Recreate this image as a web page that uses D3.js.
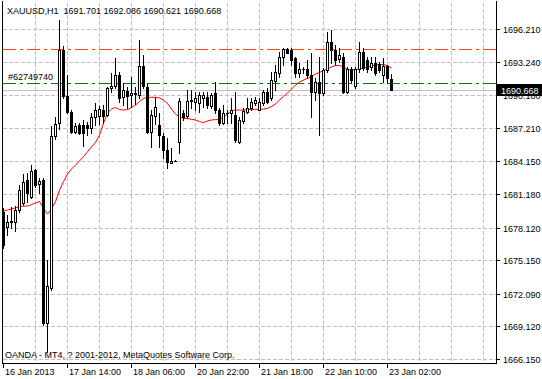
<!DOCTYPE html>
<html><head><meta charset="utf-8">
<script src="https://cdn.jsdelivr.net/npm/d3@7/dist/d3.min.js"></script>
<style>
html,body{margin:0;padding:0;background:#fff;}
svg{display:block;}
text{font-family:"Liberation Sans",Arial,sans-serif;font-size:9px;fill:#000;}
</style></head><body>
<svg id="c" width="542" height="379"></svg>
<script>
const symbolTitle = "XAUUSD,H1";
const lastOHLC = ["1691.701", "1692.086", "1690.621", "1690.668"];

const opens = [1679.54,1678.20,1678.60,1678.65,1679.72,1680.38,1682.45,1680.93,1683.36,1682.09,
1682.45,1669.40,1672.61,1686.46,1687.62,1694.29,1690.10,1688.67,1686.85,1687.46,
1687.46,1687.46,1687.16,1688.22,1688.30,1688.83,1688.37,1690.81,1691.02,1692.02,
1690.04,1690.59,1690.20,1690.38,1690.20,1692.84,1690.95,1686.85,1688.28,1687.46,
1686.46,1685.18,1684.03,1684.21,1685.94,1688.53,1688.28,1689.65,1689.59,1689.49,
1689.89,1690.04,1689.19,1690.35,1688.83,1687.62,1688.53,1688.58,1688.37,1685.94,
1687.83,1688.67,1688.98,1689.47,1688.83,1689.44,1690.50,1689.89,1691.50,1692.17,
1693.68,1694.36,1694.29,1693.54,1692.17,1692.54,1692.54,1692.02,1690.47,1691.41,
1690.41,1692.47,1695.05,1694.29,1693.45,1693.66,1690.50,1692.54,1691.02,1692.54,
1694.14,1693.38,1692.77,1693.08,1693.02,1692.02,1692.84,1691.701];
const highs = [1679.90,1679.26,1680.02,1680.08,1682.00,1683.00,1683.06,1683.82,1683.43,1682.61,
1682.63,1675.16,1687.37,1688.22,1697.03,1694.66,1692.02,1688.83,1687.64,1687.64,
1687.92,1687.74,1688.56,1689.47,1689.19,1689.28,1690.95,1692.17,1693.57,1692.32,
1691.29,1690.95,1691.86,1690.95,1695.21,1693.84,1691.29,1688.83,1690.04,1688.56,
1686.73,1686.28,1685.37,1684.30,1689.92,1688.83,1690.65,1690.65,1690.50,1690.50,
1690.50,1690.50,1690.41,1691.41,1689.01,1689.28,1688.83,1689.89,1690.50,1688.22,
1689.01,1689.92,1689.89,1690.01,1689.92,1690.65,1690.83,1692.32,1692.93,1694.14,
1694.45,1694.45,1694.45,1693.68,1693.08,1692.77,1693.38,1694.02,1691.74,1693.68,
1692.66,1695.96,1696.12,1694.75,1694.48,1694.02,1692.75,1692.75,1692.75,1695.02,
1694.48,1693.66,1693.68,1693.68,1693.20,1693.57,1692.93,1692.086];
const lows = [1676.26,1677.44,1678.05,1677.83,1679.56,1680.17,1680.48,1680.78,1681.84,1681.24,
1669.24,1666.78,1672.43,1686.16,1687.07,1689.89,1688.56,1686.78,1686.76,1686.64,
1685.55,1686.55,1686.76,1687.46,1687.55,1687.64,1688.28,1690.50,1690.81,1689.59,
1689.28,1689.01,1689.13,1689.38,1689.89,1690.81,1686.71,1685.46,1687.55,1685.49,
1684.46,1683.55,1683.97,1684.15,1684.94,1687.92,1688.10,1689.01,1688.83,1688.67,
1689.13,1689.01,1688.98,1688.53,1687.46,1687.53,1687.62,1687.62,1685.94,1685.80,
1687.64,1688.56,1688.83,1689.28,1688.83,1689.28,1689.47,1689.74,1690.65,1691.86,
1692.93,1693.99,1692.93,1691.86,1691.86,1692.17,1691.72,1688.19,1689.74,1686.55,
1690.20,1692.32,1693.11,1692.93,1693.20,1690.35,1690.38,1691.38,1690.83,1692.29,
1692.47,1692.29,1692.47,1692.02,1692.29,1691.41,1691.41,1690.621];
const closes = [1676.53,1678.65,1678.72,1679.72,1681.54,1682.30,1681.24,1683.30,1682.00,1682.39,
1669.40,1672.80,1686.46,1687.55,1694.29,1690.10,1688.67,1686.85,1687.37,1686.76,
1686.76,1687.16,1688.22,1688.83,1688.90,1688.28,1690.81,1691.02,1692.02,1689.89,
1690.65,1690.13,1690.38,1690.29,1692.84,1691.02,1686.85,1688.37,1689.13,1686.55,
1685.18,1684.12,1684.21,1684.21,1689.65,1688.16,1689.65,1689.74,1689.89,1690.20,
1690.20,1689.28,1690.20,1688.83,1687.62,1688.53,1688.55,1688.83,1686.10,1687.92,
1688.74,1689.01,1689.59,1689.74,1689.59,1690.50,1689.59,1691.56,1692.32,1693.68,
1694.36,1694.05,1693.38,1692.17,1692.54,1692.56,1692.02,1690.50,1691.38,1690.35,
1692.47,1695.05,1694.29,1693.38,1693.84,1690.50,1692.54,1691.56,1692.54,1694.14,
1692.63,1692.54,1693.08,1692.17,1692.47,1692.84,1691.72,1690.668];
const maValues = [1679.63,1679.72,1679.81,1679.93,1680.02,1680.08,1680.08,1680.22,1680.36,1680.49,
1679.87,1679.35,1679.81,1680.48,1681.54,1682.30,1683.00,1683.45,1683.82,1684.18,
1684.59,1685.03,1685.46,1685.87,1686.55,1687.64,1688.56,1688.92,1689.06,1688.87,
1688.83,1688.87,1689.06,1689.28,1689.60,1689.89,1689.97,1689.99,1689.99,1689.92,
1689.74,1689.42,1688.92,1688.46,1688.19,1688.07,1688.05,1687.98,1687.92,1687.78,
1687.69,1687.83,1687.92,1687.96,1687.96,1688.19,1688.46,1688.78,1688.83,1688.83,
1688.83,1688.87,1688.89,1688.89,1688.89,1688.92,1688.98,1689.15,1689.38,1689.74,
1690.06,1690.38,1690.74,1691.11,1691.38,1691.56,1691.72,1691.88,1692.11,1692.25,
1692.43,1692.56,1692.75,1692.88,1692.88,1692.75,1692.52,1692.47,1692.52,1692.56,
1692.66,1692.75,1692.84,1692.93,1692.97,1692.97,1692.88,1692.66];

const priceTicks = [1696.210,1693.240,1690.180,1687.210,1684.150,1681.180,1678.120,1675.150,1672.090,1669.120,1666.150];
const timeLabels = ["16 Jan 2013","17 Jan 14:00","18 Jan 06:00","20 Jan 22:00","21 Jan 18:00","22 Jan 10:00","23 Jan 02:00"];
const timeLabelBars = [0,16,32,48,64,80,96];
const gridBars = [8,16,24,32,40,48,56,64,72,80,88,96,104,112,120];
const stopLevel = 1694.42;
const orderLevel = 1691.32;
const orderLabel = "#62749740";
const bidPrice = 1690.668;
const copyright = "OANDA - MT4, ? 2001-2012, MetaQuotes Software Corp.";

const W = 542, H = 379;
const pL = 2, pR = 496, pT = 1, pB = 363;
const svg = d3.select("#c");

const x = d3.scaleLinear().domain([0, 97]).range([3, 391]);
const y = d3.scaleLinear().domain([1666.15, 1696.21]).range([359, 29]);
const ry = v => Math.round(y(v));

// grid
const grid = svg.append("g").attr("shape-rendering","crispEdges")
  .style("stroke","#c0c0c0").style("stroke-dasharray","4,2");
priceTicks.forEach(v => {
  grid.append("line").attr("x1", pL+1).attr("x2", pR).attr("y1", ry(v)+0.5).attr("y2", ry(v)+0.5);
});
gridBars.forEach(b => {
  grid.append("line").attr("x1", x(b)+0.5).attr("x2", x(b)+0.5).attr("y1", pT+2).attr("y2", pB);
});

// bid line
svg.append("rect").attr("x", pL+1).attr("y", ry(bidPrice)).attr("width", pR-pL-1).attr("height", 1)
  .style("fill","#c0c0c0");

// order lines drawn as dash-dot segments
function dashDot(level, color) {
  const g = svg.append("g").attr("shape-rendering","crispEdges").style("fill", color);
  const yy = ry(level);
  const pattern = [[0,13],[17,3]]; // dash, dot within a 24px period
  for (let s = pL+1; s < pR; s += 24) {
    pattern.forEach(([off,len]) => {
      const a = s + off, b = Math.min(a + len, pR);
      if (a < pR) g.append("rect").attr("x", a).attr("y", yy).attr("width", b - a).attr("height", 1);
    });
  }
}
dashDot(stopLevel, "#ff4500");
dashDot(orderLevel, "#008000");
svg.append("text").attr("x", 8).attr("y", ry(orderLevel)-3).text(orderLabel);

// MA
svg.append("path").datum(maValues)
  .attr("d", d3.line().x((d,i)=>x(i)+0.5).y(d=>y(d)))
  .style("fill","none").style("stroke","#ff0000").style("stroke-width","1");

// candles
const cg = svg.append("g").attr("shape-rendering","crispEdges");
opens.forEach((o,i) => {
  const c = closes[i], h = highs[i], l = lows[i];
  const cx = x(i);
  cg.append("line").attr("x1", cx+0.5).attr("x2", cx+0.5)
    .attr("y1", ry(h)).attr("y2", ry(l)+1).style("stroke","#000");
  const t = ry(Math.max(o,c)), b = ry(Math.min(o,c));
  if (b - t < 1) {
    cg.append("line").attr("x1", cx-1).attr("x2", cx+2).attr("y1", t+0.5).attr("y2", t+0.5).style("stroke","#000");
  } else if (c < o) {
    cg.append("rect").attr("x", cx-1).attr("y", t).attr("width", 3).attr("height", b-t+1).style("fill","#000");
  } else {
    cg.append("rect").attr("x", cx-0.5).attr("y", t+0.5).attr("width", 2).attr("height", b-t)
      .style("fill","#fff").style("stroke","#000");
  }
});

// frame
const fr = svg.append("g").attr("shape-rendering","crispEdges").style("stroke","#000");
fr.append("line").attr("x1", pL+0.5).attr("x2", pL+0.5).attr("y1", pT).attr("y2", pB+1);
fr.append("line").attr("x1", pR+0.5).attr("x2", pR+0.5).attr("y1", pT).attr("y2", pB+1);
fr.append("line").attr("x1", pL).attr("x2", pR+1).attr("y1", pB+0.5).attr("y2", pB+0.5);

// price axis
priceTicks.forEach(v => {
  fr.append("line").attr("x1", pR).attr("x2", pR+4).attr("y1", ry(v)+0.5).attr("y2", ry(v)+0.5);
  svg.append("text").attr("x", 503).attr("y", ry(v)+3.5).text(v.toFixed(3));
});
// bid label
svg.append("rect").attr("x", pR+1).attr("y", ry(bidPrice)-6).attr("width", W-pR-1).attr("height", 12).style("fill","#000");
svg.append("text").attr("x", 501).attr("y", ry(bidPrice)+3.5).style("fill","#fff").text(bidPrice.toFixed(3));

// time axis
timeLabelBars.forEach((b,i) => {
  fr.append("line").attr("x1", x(b)+0.5).attr("x2", x(b)+0.5).attr("y1", pB).attr("y2", pB+5);
  svg.append("text").attr("x", x(b)+2).attr("y", 375).text(timeLabels[i]);
});

// title + copyright
svg.append("text").attr("x", 7).attr("y", 14).attr("xml:space","preserve").style("white-space","pre")
  .text(symbolTitle + "  " + lastOHLC.join(" "));
svg.append("text").attr("x", 5).attr("y", 358).text(copyright);
</script>
</body></html>
